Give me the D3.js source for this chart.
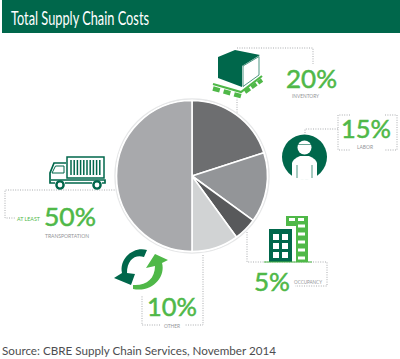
<!DOCTYPE html>
<html><head><meta charset="utf-8">
<script src="https://cdn.jsdelivr.net/npm/d3@7/dist/d3.min.js"></script>
<style>html,body{margin:0;padding:0;background:#fff}svg{display:block}text{font-family:Lato,"Open Sans",sans-serif}</style>
</head><body><svg id="c" width="400" height="359"></svg>
<script>
const categories=["Inventory","Labor","Occupancy","Other","Transportation"];
const values=[20,15,5,10,50];
const sliceColors=["#6d6e70","#939598","#58595b","#d1d3d4","#a8a9ac"];
const title="Total Supply Chain Costs";
const source="Source: CBRE Supply Chain Services, November 2014";
const DARK="#00674b",LIGHT="#4fb848",DOT="#a9abae",LBL="#939598";
const svg=d3.select("#c");
svg.append("rect").attr("x",2).attr("y",0).attr("width",398).attr("height",33).attr("fill",DARK);
svg.append("text").attr("x",11).attr("y",24.5).attr("fill","#fff").attr("textLength",138).attr("lengthAdjust","spacingAndGlyphs").style("font-size","19.5px").text(title);

function dots(d){svg.append("path").attr("d",d).attr("fill","none").attr("stroke",DOT).attr("stroke-width",1).attr("stroke-dasharray","1 1.4");}
dots("M237 115V98");dots("M237 48H313V64");
dots("M305 133V129H338");
dots("M350 115H338V150H350M385 115H397V150H385");
dots("M117 190H5V218H16");
dots("M247 232V262H327V286H295");
dots("M203 255V325H185M160 325H142V295");

const cx=192,cy=176,r=75.5;
svg.append("circle").attr("cx",cx).attr("cy",cy).attr("r",r+1.5).attr("fill","#fff").attr("stroke","#e6e7e8").attr("stroke-width",1.5);
const pie=d3.pie().sort(null).value(d=>d)(values);
const arc=d3.arc().innerRadius(0).outerRadius(r);
svg.append("g").attr("transform",`translate(${cx},${cy})`).selectAll("path").data(pie).join("path")
 .attr("d",arc).attr("fill",(d,i)=>sliceColors[i]).attr("stroke","#fff").attr("stroke-width",1.6);

function pct(x,y,t,w){svg.append("text").attr("x",x).attr("y",y).attr("fill",LIGHT).attr("stroke",LIGHT).attr("stroke-width",.5).attr("textLength",w).attr("lengthAdjust","spacingAndGlyphs").style("font-size","25px").text(t);}
function lab(x,y,t,w,s,c){svg.append("text").attr("x",x).attr("y",y).attr("fill",c||LBL).attr("textLength",w).attr("lengthAdjust","spacingAndGlyphs").style("font-size",(s||6)+"px").text(t);}
pct(286,88,"20%",51);lab(292,97.5,"INVENTORY",27);
pct(341,138,"15%",50);lab(357,149,"LABOR",16,5.4);
pct(44,226,"50%",52);lab(45,238,"TRANSPORTATION",44);lab(17,220.5,"AT LEAST",23,6.4,LIGHT);
pct(147,316,"10%",50);lab(164,327.5,"OTHER",16);
pct(254,291,"5%",36);lab(294,283.5,"OCCUPANCY",28);
svg.append("text").attr("x",2).attr("y",355).attr("fill","#4d4d4f").attr("textLength",274).attr("lengthAdjust","spacingAndGlyphs").style("font-size","12px").text(source);

const ic=svg.append("g");
// pallet
ic.append("path").attr("d","M213 84L241 92L262 76").attr("fill","none").attr("stroke",LIGHT).attr("stroke-width",2.2);
ic.append("path").attr("d","M213 88.5L244 97").attr("fill","none").attr("stroke",LIGHT).attr("stroke-width",4.5).attr("stroke-dasharray","7 4");
ic.append("path").attr("d","M245 92L262 80").attr("fill","none").attr("stroke",LIGHT).attr("stroke-width",4).attr("stroke-dasharray","6 2");
// box
ic.append("path").attr("d","M218 57L235 50L260 55L242 66V87L218 78Z").attr("fill",DARK);
ic.append("path").attr("d","M243 66L259 56.5V75L243 86.5Z").attr("fill","#fff").attr("stroke",DARK).attr("stroke-width",.7);
// worker icon
ic.append("circle").attr("cx",304.5).attr("cy",157).attr("r",22.5).attr("fill",DARK);
ic.append("circle").attr("cx",304.5).attr("cy",147.5).attr("r",7).attr("fill","#fff");
ic.append("path").attr("d","M297 144.5H312").attr("stroke",DARK).attr("stroke-width",.6);
ic.append("path").attr("d","M292 178V163Q293 159 300 156H309Q316 159 317 163V178Q304 182 292 178Z").attr("fill","#fff");
ic.append("path").attr("d","M297 165V178M312 165V178").attr("stroke",DARK).attr("stroke-width",.7);
// truck icon
ic.append("rect").attr("x",67).attr("y",157).attr("width",37).attr("height",21).attr("fill","#fff").attr("stroke",DARK).attr("stroke-width",1.5);
for(const x of d3.range(71,102,3.2)) ic.append("line").attr("x1",x).attr("x2",x).attr("y1",160).attr("y2",175).attr("stroke",DARK).attr("stroke-width",1.5);
ic.append("path").attr("d","M66 163H54L50 173V183H55M65 183H92M102 183H105V180H51").attr("fill","none").attr("stroke",DARK).attr("stroke-width",1.7);
ic.append("path").attr("d","M52 173L55.5 166H64V173Z").attr("fill","#fff").attr("stroke",DARK).attr("stroke-width",1);
for(const x of [60,97]) ic.append("circle").attr("cx",x).attr("cy",185).attr("r",3.6).attr("fill","#fff").attr("stroke",DARK).attr("stroke-width",2.4);
// recycle icon
ic.append("path").attr("d","M147 250L144 257C135 254 127 260 127 273L135 274L131 285L114 278L122 273C119 258 134 246 147 250Z").attr("fill",DARK);
ic.append("path").attr("d","M133 285C146 286 155 279 155 266L146 268L155 254L168 260L162 263C166 277 152 293 133 289Z").attr("fill",LIGHT);
// building icon
ic.append("path").attr("d","M286 216H308V262H296V226H286Z").attr("fill",LIGHT);
for(const y of [226,234,242,250,258]) ic.append("rect").attr("x",298).attr("y",y-1.5).attr("width",7).attr("height",3).attr("fill","#fff");
ic.append("rect").attr("x",289).attr("y",218).attr("width",6).attr("height",3).attr("fill","#fff");
ic.append("rect").attr("x",298).attr("y",218).attr("width",6).attr("height",3).attr("fill","#fff");
ic.append("rect").attr("x",269).attr("y",229).attr("width",23).attr("height",33).attr("fill",DARK);
for(const y of [234,243,252]) for(const x of [273,282]) ic.append("rect").attr("x",x).attr("y",y).attr("width",6).attr("height",6).attr("fill","#fff");
ic.append("path").attr("d","M264 262H312").attr("stroke",LIGHT).attr("stroke-width",1);
</script></body></html>
